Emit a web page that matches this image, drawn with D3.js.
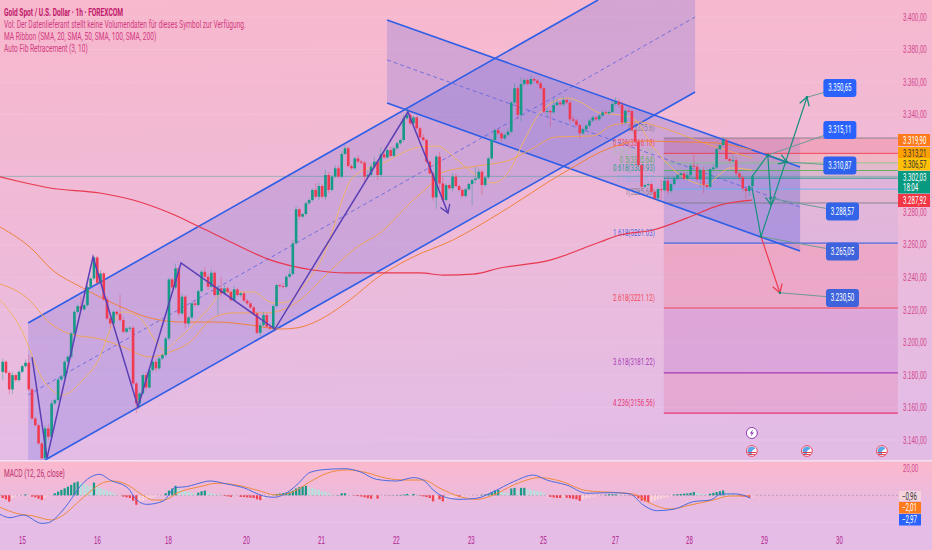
<!DOCTYPE html>
<html>
<head>
<meta charset="utf-8">
<script src="https://cdn.jsdelivr.net/npm/d3@7"></script>
<style>
  html, body { margin: 0; padding: 0; background: #e5bde6; }
  svg { display: block; font-family: Roboto, "Liberation Sans", sans-serif; }
</style>
</head>
<body>
<div id="chart"></div>
<script>
// Candles, one entry per hourly bar. Open is the close before it.
var firstOpen = 3181.9
var closes = [
  3188.1,3181.3,3171.1,3179.9,3176.8,3181.9,3185.4,3187.5,3171.1,3153.2,
  3149.1,3137.9,3128.8,3147.1,3142,3162.5,3164.5,3177.2,3178.9,3188.1,
  3191.2,3205.5,3218.8,3222.3,3220.3,3222.9,3234.2,3239.3,3252.2,3236.7,
  3242.4,3226.4,3214.7,3211.6,3218.8,3217.4,3213.7,3206.5,3208.6,3209,
  3174.8,3162.5,3168.6,3179.9,3172.3,3183,3188.1,3184,3190.1,3192.2,
  3202.4,3238.7,3233.8,3245.5,3217.8,3228.1,3211.6,3215.3,3224,3223,
  3231.5,3243.4,3240.3,3234.2,3242.8,3229.1,3233.2,3230.1,3233.2,3231.1,
  3226,3232.6,3229.1,3230.1,3225.6,3224,3221.5,3217.8,3205.9,3210.6,
  3216.8,3209.6,3208.6,3222.3,3235.2,3234.6,3234.2,3240.3,3242,3260.9,
  3281.8,3277.3,3278.9,3285.5,3287.5,3293.7,3289.5,3296.1,3289.5,3302.9,
  3293.7,3301.9,3307,3301.9,3315.8,3319.3,3308.4,3307,3313.1,3311.1,
  3310.5,3301.9,3302.9,3308,3311.1,3302.9,3315.6,3313.7,3318.2,3314.6,
  3319.3,3322.4,3324.4,3337.7,3339.8,3334.6,3338.3,3331.6,3326,3324.4,
  3311.1,3303.9,3289.1,3314.2,3297.7,3287.5,3296.7,3294.7,3301.9,3296.1,
  3293.7,3290,3294.1,3297.3,3299.8,3300.8,3304.9,3296.7,3301.4,3313.1,
  3324.4,3330.5,3328.5,3325.4,3327.5,3329.5,3347.4,3356.2,3339.8,3358.8,
  3361.3,3358.8,3361.9,3360.9,3359.3,3356.2,3341.8,3342.2,3341.4,3345.9,
  3347.4,3346.3,3349,3347.4,3337.1,3336.3,3333.6,3328.5,3331,3333.2,
  3336.3,3338.3,3337.1,3339.4,3341.4,3340.8,3341.6,3346.5,3347.8,3346.1,
  3335.1,3342.4,3342.2,3330.5,3323.4,3309,3295.7,3296.7,3297.3,3292.6,
  3288.5,3294.2,3293.6,3299.3,3293,3297.3,3300.8,3302.8,3303.9,3300.6,
  3302.8,3308.6,3308,3300.2,3305.9,3296.7,3295.6,3306.5,3307.5,3318.8,
  3321.3,3324.4,3312.7,3311.6,3312,3303.9,3301.4,3294.6,3293,3296.1,
  3302.03
]
var wickUp = [
  2,1,1,2,1,1,1,2,5,1, 1,1,1,2,3,2,1,1,1,1, 1,1,1,1,6,1,1,1,1,1, 2,1,2,1,1,1,12,2,1,1,
  1,1,1,1,2,1,1,2,1,1, 1,1,1,3,1,2,1,1,1,2, 1,1,3,2,2,1,2,7,2,1, 1,2,1,1,1,1,1,1,1,2,
  2,1,1,1,1,1,2,1,3,2, 2,1,1,1,1,1,4,2,1,3, 2,1,2,2,2,2,1,1,1,2, 1,1,3,2,3,1,4,2,1,2,
  1,1,1,2,4,2,1,1,1,2, 1,1,1,1,3,4,1,1,2,2, 1,1,1,1,1,7,2,1,1,1, 1,1,1,1,1,2,1,3,1,4,
  1,1,2,1,1,1,1,2,1,4, 2,1,2,1,1,2,1,1,1,1, 1,1,1,1,1,1,1,2,3,2, 2,1,2,1,1,1,1,1,1,1,
  1,1,6,2,3,1,1,1,1,1, 2,1,7,2,1,2,1,1,2,1, 1,2,1,1,3,2,1,1,1,1, 1
]
var wickDown = [
  5,1,3,3,1,1,1,1,1,1, 1,1,1,4,2,1,1,1,1,1, 1,1,1,1,1,1,1,1,1,1, 1,1,1,3,1,1,1,1,1,2,
  1,6,3,1,2,1,1,2,1,1, 1,1,1,1,2,1,3,2,1,1, 1,1,1,2,1,1,12,2,1,1, 1,1,1,1,1,1,1,1,1,2,
  1,1,1,1,1,1,1,1,1,1, 1,2,1,1,1,1,1,2,1,2, 2,1,1,1,1,1,1,1,1,1, 1,4,1,1,1,3,1,1,1,1,
  1,1,1,1,1,1,1,1,1,1, 1,1,2,7,3,1,1,1,2,1, 1,1,1,1,13,2,1,6,1,1, 1,1,1,2,1,1,1,1,3,4,
  1,1,1,1,1,1,1,3,9,1, 1,1,1,1,2,1,1,3,1,1, 1,1,1,1,1,1,1,1,1,2, 2,1,1,1,1,1,2,1,1,1,
  1,2,6,1,2,1,1,1,1,1, 1,1,1,1,5,5,1,1,1,1, 1,1,1,1,1,2,2,2,5,3, 1
]

// MA ribbon, [bar, price]
var sma20 = [[-0.8,3226.1],[5.3,3209.5],[12.4,3176.9],[18.5,3167.7],[24.6,3176.9],[29.8,3191],[32.9,3207.6],[36.9,3218.7],[42.1,3215],[47.3,3199.6],[49.2,3195.3],[53.5,3201.5],[63.6,3221.8],[67.6,3231],[76.8,3231],[82.9,3224.2],[87.2,3224.8],[91.2,3232.2],[98.2,3252.5],[107.5,3301.7],[116.7,3310.3],[128,3320.1],[133.2,3320.7],[139.4,3312.1],[144.3,3304.1],[150.4,3298],[155.6,3306],[159.6,3322.6],[164.8,3341],[173.1,3350.2],[177.1,3347.8],[183.2,3341],[189.3,3339.8],[193.3,3337.9],[199.5,3320.1],[207.8,3302.9],[216,3296.7],[219.1,3301.7],[223.1,3307.2],[229.8,3306]]
var sma50 = [[-0.8,3235.9],[7.5,3227.3],[14.5,3211.9],[20.6,3205.2],[29.8,3202.1],[36.9,3197.2],[45.2,3191],[50.4,3193.5],[57.5,3200.3],[64.5,3215],[70.6,3218.1],[81.1,3218.1],[91.2,3226.1],[98.2,3239.6],[108.7,3258.6],[115.7,3267.2],[125.9,3287.5],[130.5,3295.5],[135.1,3304.7],[145.5,3308.4],[155.6,3312.1],[161.7,3318.3],[170,3326.3],[181.1,3326.9],[187.2,3333.6],[195.5,3335.5],[199.5,3333.6],[217,3321.3],[229.8,3313.3]]
var sma100 = [[-0.8,3270.9],[9.3,3256.8],[14.5,3245.8],[24.6,3233.4],[35,3223],[45.2,3215],[55.3,3212.5],[65.7,3212.5],[75.9,3210.7],[85,3208.2],[90.3,3208.9],[95.2,3212],[106.5,3226.1],[114.8,3239.6],[125.9,3252.5],[138.1,3262.9],[152.5,3279.5],[171.9,3304.1],[187.2,3320.1],[195.5,3323.8],[207.8,3323.2],[218.5,3322.6],[229.8,3318.3]]
var sma200 = [[-0.8,3301.7],[4.4,3299.2],[14.5,3294.9],[29.8,3291.8],[40,3287.5],[51.3,3279.5],[60.5,3270.9],[70.6,3261.1],[82,3250.7],[95.2,3244.5],[105.6,3242.7],[128,3242.7],[135.1,3241.4],[144.3,3242],[152.5,3245.7],[167.9,3250.6],[183.2,3261.7],[189.3,3266],[199.5,3269.1],[210,3276.5],[220,3284.4],[229.8,3287.5]]

// MACD pane
var macdLine = [[-0.8,-14.1],[2.2,-16.6],[6.3,-14.6],[12,-20.8],[14,-20.3],[17.6,-13.4],[21.2,-2.2],[23.7,6.4],[26.8,13.3],[29.8,15.5],[32.9,11.3],[38.5,5.2],[40.6,-2.2],[44.2,-6.7],[49.3,-4.2],[52.9,5.7],[56.4,6.4],[59.5,8.4],[63.6,10.6],[68.7,8.4],[73.8,5.7],[80,-0.5],[83,-1.5],[88.1,3.4],[90.7,8.9],[94.3,17],[99.4,19.2],[105,19.7],[109.6,17.5],[114.7,11.8],[120.9,10.6],[126,13.1],[129,11.3],[132.1,3.9],[135.2,-1],[140.3,-3],[145.4,-2.2],[150.5,2.7],[156.7,10.1],[162.8,15],[166.9,11.3],[173,7.6],[179.2,1.5],[187.3,2],[192.4,1],[196.5,-7.2],[200.6,-11.4],[205.7,-10.4],[211.9,-4.7],[217,-3.5],[220.6,1],[225.2,1],[229.3,-2.2]]
var signalLine = [[-0.8,-8.9],[4.3,-13.4],[9.4,-15.3],[15,-18.3],[18.6,-14.6],[22.7,-6],[26.8,2.7],[30.9,9.4],[34,10.6],[38,8.1],[42.1,1.5],[46.2,-3.5],[49.3,-3.5],[54.4,2.7],[60.5,6.4],[65.6,8.9],[71.8,7.6],[77.9,3.9],[84,0.2],[89.1,2.7],[94.3,10.1],[99.4,16.3],[105.5,18.8],[111.6,16.8],[117.8,12.6],[123.9,11.3],[129,11.3],[134.1,5.2],[140.3,-1],[145.4,-3],[150.5,0.2],[156.7,7.6],[164.8,13.1],[171,10.6],[179.2,3.4],[188.4,2],[193.5,1],[198.6,-5.9],[204.7,-10.2],[210.9,-7.2],[218,-3.5],[223.1,-0.5],[229.3,-0.5]]
var histogram = [
  -2,-3,-4.7,-2,-1,-0.5,0.2,0.7,-0.5,-1, -1.5,-2.5,-3.5,-1.5,-0.8,0.3,1.5,2.7,4,5.2,
  6.4,7.7,9.4,10.1,9.4,8.5,7.5,7,9.4,6.5, 5.5,4.5,3.5,2.5,1.5,0.5,-0.3,-1,-1.5,-2,
  -4,-7,-5,-4,-3,-2,-1.5,-0.8,-0.5,-0.2, 1.5,3.5,5,7,5,4,3,2.5,2,1.5,
  2,3,3.5,2,1.5,1,0.6,0.3,-0.4,-0.8, -1.2,-0.3,-0.2,-1.2,-1.3,-1.6,-1.8,-2,-3,-3.6,
  -2.5,-1.5,-0.7,0.3,1,1.3,1.7,2,2.5,3.5, 5,6,6.5,7,6,5.5,4.5,4,3,2.4,
  1.5,0.6,0.2,0.2,1.5,1.5,0.3,0.1,-0.3,-0.6, -0.9,-1.5,-2.2,-2.5,-0.5,-2.5,-0.2,-0.1,-0.1,0.1,
  0.1,0.2,0.3,0.5,1,0.7,1,0.3,-0.3,-0.8, -1.3,-2,-4.5,-2,-3,-4.5,-3,-2.5,-2,-1,
  -1,-0.8,-0.6,-0.4,-0.3,-0.2,-0.1,0.4,0.6,1, 2.5,3.5,4,2.5,2,1.8,5,5.5,3.5,5.5,
  5.5,4.5,4,3.5,3,2.5,1.5,-0.6,-1.2,-1.6, -2,-2,-1.2,-1.8,-2.2,-2.6,-3,-4.2,-3,-2.2,
  -1.6,-1,-0.6,-0.3,-0.1,0.4,0.8,0.8,0.8,0.5, 0.3,0.1,-0.1,-0.3,-0.6,-2.2,-4,-4.5,-5,-4.4,
  -3.8,-3,-2.4,-1.8,-1.2,-0.6,0.6,0.8,1,1.2, 1.4,1.8,2.4,1.8,1.2,0.9,0.6,1.2,1.8,2.4,
  3,3.6,2,1.2,0.6,0.2,-0.6,-0.9,-1.2,-1.6, -0.96
]

// Axes
var priceTicks = [3400,3380,3360,3340,3280,3260,3240,3220,3200,3180,3160,3140]
var macdTicks = [20]
var dayBars = [5.9,28.9,50.7,74.6,97.6,120.6,143.6,165.7,187.8,210.5,233.5,256.5]
var dayLabels = ["15","16","18","20","21","22","23","25","27","28","29","30"]

// Fibonacci levels
var fibRatios = [0,0.236,0.382,0.5,0.618,0.786,1,1.618,2.618,3.618,4.236]
var fibPrices = [3325.6,3316.18,3310.36,3305.64,3300.93,3294.2,3285.68,3261.03,3221.12,3181.22,3156.56]
var fibColors = ["#7d7a8a","#f23645","#81c784","#4caf50","#089981","#64b5f6","#787b86","#2f5ee6","#f23645","#9c27b0","#e91e63"]
var fibBands = ["#f23645","#ff9800","#4caf50","#089981","#2962ff","#787b86","#2962ff","#f23645","#9c27b0","#e91e63"]
var fibBandAlpha = [0.16,0.08,0.08,0.08,0.08,0.08,0.06,0.14,0.14,0.12]
var fibBarStart = 202.8, fibBarEnd = 274.6

// Channels drawn on the chart
var upChannelFill = [[7.8,3211.9],[182.6,3410.45],[212.4,3410.45],[212.4,3353.9],[13,3127.7],[7.8,3127.7]]
var upChannelTop = [[7.8,3211.9],[182.6,3410.45]]
var upChannelMid = [[7.8,3167.7],[212.4,3400]]
var upChannelLow = [[13,3127.7],[212.4,3353.9]]
var downChannelFill = [[117.9,3398.2],[244.6,3307.8],[244.6,3256.2],[117.9,3347.1]]
var downChannelTop = [[117.9,3398.2],[244.6,3307.8]]
var downChannelMid = [[117.9,3373.6],[244.6,3283.2]]
var downChannelLow = [[117.9,3347.1],[244.6,3256.2]]
var shadeBox = [[202.8,3325.6],[244.6,3325.6],[244.6,3261.03],[202.8,3261.03]]

// Zigzag and projected moves
var zigzag = [[9,3191],[13.6,3129],[27.7,3252.5],[41.5,3160.3],[54.7,3248.8],[83.5,3208.2],[124.3,3341.6],[136.6,3279.5]]
var moveUpA = [[229.8,3301.7],[234.7,3315.2],[235.7,3284.4]]
var moveUpSide = [[234.7,3315.2],[240.6,3310.87]]
var moveDownUp = [[229.8,3295.5],[232.6,3265.05],[246.7,3350.65]]
var moveDown = [[232.6,3265.05],[238.4,3230.5]]

// Target boxes: value, anchor bar, box centre bar and price
var targetValues = [3350.65,3315.11,3310.87,3288.57,3265.05,3230.5]
var targetBars = [246.7,234.7,240.6,235.5,232.6,238.4]
var targetBoxBars = [256.8,256.8,256.8,257.6,257.6,257.6]
var targetBoxPrices = [3356.4,3330.6,3308.7,3280.5,3255.9,3227.3]
var targetColors = ["#2962ff","#2962ff","#2e62ee","#3364e8","#3f63dc","#3f63dc"]

// Right hand tags
var tagLabels = ["3.319,90","3.313,21","3.306,57","3.302,03","3.287,92"]
var tagColors = ["#ff7a1a","#ffa000","#ffc107","#089981","#f23645"]
var tagText = ["#fff","#333","#333","#fff","#fff"]
var macdTagLabels = ["−0,96","−2,01","−2,97"]
var macdTagColors = ["#f4d3dc","#ff7a1a","#2962ff"]
var macdTagText = ["#333","#fff","#fff"]

var legendLines = [
  "Gold Spot / U.S. Dollar · 1h · FOREXCOM",
  "Vol: Der Datenlieferant stellt keine Volumendaten für dieses Symbol zur Verfügung.",
  "MA Ribbon (SMA, 20, SMA, 50, SMA, 100, SMA, 200)",
  "Auto Fib Retracement (3, 10)"
]
var eventBars = [229.8,246.7,269.7]

var width = 932, height = 550, paneRight = 898, paneBottom = 460

var svg = d3.select("#chart").append("svg")
    .attr("width", width)
    .attr("height", height)

var defs = svg.append("defs")

var mainGrad = defs.append("linearGradient").attr("id", "mainBg")
    .attr("x1", 0).attr("y1", 0).attr("x2", 0.1).attr("y2", 1)
mainGrad.append("stop").attr("offset", 0).attr("stop-color", "#f8b8cd")
mainGrad.append("stop").attr("offset", 0.5).attr("stop-color", "#efbad7")
mainGrad.append("stop").attr("offset", 1).attr("stop-color", "#e3bce6")

var macdGrad = defs.append("linearGradient").attr("id", "macdBg")
    .attr("x1", 0).attr("y1", 0).attr("x2", 0).attr("y2", 1)
macdGrad.append("stop").attr("offset", 0).attr("stop-color", "#fbb8cc")
macdGrad.append("stop").attr("offset", 0.7).attr("stop-color", "#e6bce4")
macdGrad.append("stop").attr("offset", 1).attr("stop-color", "#e4bce6")

defs.append("clipPath").attr("id", "paneClip")
    .append("rect").attr("width", paneRight).attr("height", paneBottom)

function addArrow(id, color) {
    defs.append("marker").attr("id", id)
        .attr("viewBox", "0 0 12 12").attr("refX", 10).attr("refY", 6)
        .attr("markerWidth", 12).attr("markerHeight", 12)
        .attr("markerUnits", "userSpaceOnUse").attr("orient", "auto")
        .append("path").attr("d", "M2,1 L10,6 L2,11")
        .attr("fill", "none").attr("stroke", color).attr("stroke-width", 1.3)
}
addArrow("arrowTeal", "#16907f")
addArrow("arrowRed", "#f0394f")
addArrow("arrowPurple", "#5b3fb5")

svg.append("rect").attr("width", width).attr("height", 461).attr("fill", "url(#mainBg)")
svg.append("rect").attr("y", 462).attr("width", width).attr("height", 70).attr("fill", "url(#macdBg)")
svg.append("rect").attr("y", 532).attr("width", width).attr("height", 18).attr("fill", "#e4bce6")
svg.append("rect").attr("y", 460).attr("width", width).attr("height", 1.6).attr("fill", "#f6dcec")

// ----------------- //
// Scales
// ----------------- //

var x = d3.scaleLinear().domain([0, 230]).range([2.7, 752.5])
var y = d3.scaleLinear().domain([3400, 3140]).range([17, 440])
var macdY = d3.scaleLinear().domain([20, 0]).range([468.3, 495.3])

var line = d3.line().x(function(d) { return x(d[0]) }).y(function(d) { return y(d[1]) })
var smooth = d3.line().curve(d3.curveMonotoneX).x(function(d) { return x(d[0]) }).y(function(d) { return y(d[1]) })
var macdCurve = d3.line().curve(d3.curveMonotoneX).x(function(d) { return x(d[0]) }).y(function(d) { return macdY(d[1]) })

var de = d3.formatLocale({ decimal: ",", thousands: ".", grouping: [3], currency: ["", ""] })
var price = de.format(",.2f")

// Grid and price axis
var priceAxis = svg.append("g")
    .attr("transform", "translate(" + paneRight + ",0)")
    .call(d3.axisRight(y).tickValues(priceTicks).tickFormat(price).tickSize(0).tickPadding(5))
priceAxis.select(".domain").remove()
priceAxis.selectAll("text").attr("fill", "#d2478c").attr("font-size", 10)

svg.append("g").selectAll("line").data(priceTicks).enter().append("line")
    .attr("x1", 0).attr("x2", paneRight)
    .attr("y1", function(d) { return y(d) }).attr("y2", function(d) { return y(d) })
    .attr("stroke", "#fff").attr("stroke-opacity", 0.1)

var dayAxis = svg.append("g")
    .attr("transform", "translate(0,532)")
    .call(d3.axisBottom(x).tickValues(dayBars).tickFormat(function(d, i) { return dayLabels[i] }).tickSize(0).tickPadding(5))
dayAxis.select(".domain").remove()
dayAxis.selectAll("text").attr("fill", "#b1208a").attr("font-size", 10)

var pane = svg.append("g").attr("clip-path", "url(#paneClip)")

// ----------------- //
// Channels
// ----------------- //

pane.append("path").attr("d", line(upChannelFill) + "Z").attr("fill", "#4a55e0").attr("fill-opacity", 0.2)
pane.append("path").attr("d", line(downChannelFill) + "Z").attr("fill", "#4a55e0").attr("fill-opacity", 0.2)
pane.append("path").attr("d", line(shadeBox) + "Z").attr("fill", "#4a55e0").attr("fill-opacity", 0.14)

// ----------------- //
// Fibonacci levels
// ----------------- //

d3.pairs(fibPrices).forEach(function(p, i) {
    pane.append("rect")
        .attr("x", x(fibBarStart)).attr("width", x(fibBarEnd) - x(fibBarStart))
        .attr("y", y(p[0])).attr("height", y(p[1]) - y(p[0]))
        .attr("fill", fibBands[i]).attr("fill-opacity", fibBandAlpha[i])
})
fibPrices.forEach(function(p, i) {
    pane.append("line")
        .attr("x1", x(fibBarStart)).attr("x2", x(fibBarEnd))
        .attr("y1", y(p)).attr("y2", y(p))
        .attr("stroke", fibColors[i]).attr("stroke-width", i > 6 ? 1.2 : 1).attr("stroke-opacity", 0.85)
    pane.append("text")
        .attr("data-k", 0.68)
        .attr("x", x(fibBarStart) - 9).attr("y", y(p) - 7.5)
        .attr("text-anchor", "end").attr("font-size", 9)
        .attr("fill", fibColors[i]).attr("fill-opacity", (i == 2 || i == 5) ? 0.45 : 0.9)
        .text(fibRatios[i] + "(" + p + ")")
})

// last price line
pane.append("line")
    .attr("x1", 0).attr("x2", paneRight)
    .attr("y1", y(closes[closes.length - 1])).attr("y2", y(closes[closes.length - 1]))
    .attr("stroke", "#089981").attr("stroke-opacity", 0.45).attr("stroke-width", 0.8)

// Channel lines
var blue = "#2f5ee6"
;[upChannelTop, upChannelLow, downChannelTop, downChannelLow].forEach(function(l) {
    pane.append("path").attr("d", line(l)).attr("fill", "none").attr("stroke", blue).attr("stroke-width", 1.6)
})
;[upChannelMid, downChannelMid].forEach(function(l) {
    pane.append("path").attr("d", line(l)).attr("fill", "none")
        .attr("stroke", "#5a62dc").attr("stroke-width", 0.8).attr("stroke-dasharray", "4,3")
})

// ----------------- //
// MA ribbon
// ----------------- //

var maSeries = [
  { points: sma20, color: "#f0b56a" },
  { points: sma50, color: "#efa45a" },
  { points: sma100, color: "#f0823c" },
  { points: sma200, color: "#e8384f" }
]
maSeries.forEach(function(m) {
    pane.append("path").attr("d", smooth(m.points)).attr("fill", "none")
        .attr("stroke", m.color).attr("stroke-width", m.color == "#e8384f" ? 1.2 : 1)
})

// ----------------- //
// Candles
// ----------------- //

var candles = closes.map(function(c, i) {
    var o = i == 0 ? firstOpen : closes[i - 1]
    return { bar: i, open: o, close: c, high: Math.max(o, c) + wickUp[i], low: Math.min(o, c) - wickDown[i] }
})
var candleColor = function(d) { return d.close >= d.open ? "#159a87" : "#f03a52" }

pane.append("g").selectAll("line").data(candles).enter().append("line")
    .attr("x1", function(d) { return x(d.bar) }).attr("x2", function(d) { return x(d.bar) })
    .attr("y1", function(d) { return y(d.high) }).attr("y2", function(d) { return y(d.low) })
    .attr("stroke", candleColor).attr("stroke-width", 0.7).attr("stroke-opacity", 0.55)

pane.append("g").selectAll("rect").data(candles).enter().append("rect")
    .attr("x", function(d) { return x(d.bar) - 1.3 })
    .attr("width", 2.6)
    .attr("y", function(d) { return Math.min(y(d.open), y(d.close)) })
    .attr("height", function(d) { return Math.max(1, Math.abs(y(d.open) - y(d.close))) })
    .attr("fill", candleColor)

// ----------------- //
// Zigzag, moves, targets
// ----------------- //

pane.append("path").attr("d", line(zigzag)).attr("fill", "none")
    .attr("stroke", "#5b3fb5").attr("stroke-width", 1.5).attr("marker-end", "url(#arrowPurple)")

;[moveUpA, moveUpSide, moveDownUp].forEach(function(l) {
    pane.append("path").attr("d", line(l)).attr("fill", "none")
        .attr("stroke", "#16907f").attr("stroke-width", 1.2).attr("marker-end", "url(#arrowTeal)")
})
pane.append("path").attr("d", line(moveDown)).attr("fill", "none")
    .attr("stroke", "#f0394f").attr("stroke-width", 1.2).attr("marker-end", "url(#arrowRed)")

targetValues.forEach(function(v, i) {
    var bx = x(targetBoxBars[i]), by = y(targetBoxPrices[i])
    pane.append("line")
        .attr("x1", x(targetBars[i])).attr("y1", y(v))
        .attr("x2", bx).attr("y2", by)
        .attr("stroke", "#6b9a96").attr("stroke-width", 1)
    pane.append("circle").attr("cx", x(targetBars[i])).attr("cy", y(v)).attr("r", 1.3).attr("fill", "#0d8a78")
    pane.append("rect")
        .attr("x", bx - 16.5).attr("y", by - 9).attr("width", 33).attr("height", 18).attr("rx", 3)
        .attr("fill", targetColors[i])
    pane.append("text")
        .attr("x", bx).attr("y", by + 3.5).attr("text-anchor", "middle")
        .attr("font-size", 10).attr("fill", "#fff")
        .text(price(v))
})

// Event icons
var iconY = 451
eventBars.forEach(function(b) {
    var icon = svg.append("g").attr("transform", "translate(" + x(b) + "," + iconY + ")")
    icon.append("circle").attr("r", 5.4).attr("fill", "#fff").attr("stroke", "#e5394f").attr("stroke-width", 0.9)
    icon.append("path").attr("d", d3.arc()({ innerRadius: 0, outerRadius: 4.4, startAngle: -Math.PI, endAngle: Math.PI * 0.3 })).attr("fill", "#5aa6e8")
    icon.append("rect").attr("x", -4.4).attr("y", 1).attr("width", 8.8).attr("height", 1).attr("fill", "#e5394f")
    icon.append("rect").attr("x", -3.8).attr("y", 3).attr("width", 7.6).attr("height", 0.9).attr("fill", "#e5394f")
})
var bolt = svg.append("g").attr("transform", "translate(" + x(eventBars[0]) + ",433)")
bolt.append("circle").attr("r", 5.5).attr("fill", "#fff").attr("stroke", "#8e3ab0").attr("stroke-width", 1)
bolt.append("path").attr("d", "M1,-3.5 L-2,0.6 L-0.2,0.6 L-1,3.5 L2,-0.6 L0.2,-0.6 Z").attr("fill", "#8e3ab0")

// ----------------- //
// MACD pane
// ----------------- //

svg.append("line").attr("x1", 0).attr("x2", paneRight)
    .attr("y1", macdY(0)).attr("y2", macdY(0))
    .attr("stroke", "#8a7a9a").attr("stroke-opacity", 0.6).attr("stroke-dasharray", "2,2").attr("stroke-width", 0.8)
svg.append("line").attr("x1", 0).attr("x2", paneRight)
    .attr("y1", macdY(-20)).attr("y2", macdY(-20))
    .attr("stroke", "#fff").attr("stroke-opacity", 0.1)

// rising bars are strong, falling bars are pale
function histColor(d, i) {
    var prev = i == 0 ? 0 : histogram[i - 1]
    var grows = Math.abs(d) >= Math.abs(prev)
    if (d >= 0) return grows ? "#159a87" : "#b2e3dc"
    return grows ? "#f2404f" : "#ffd5d8"
}
svg.append("g").selectAll("rect").data(histogram).enter().append("rect")
    .attr("x", function(d, i) { return x(i) - 1.1 })
    .attr("width", 2.2)
    .attr("y", function(d) { return macdY(Math.max(d, 0)) })
    .attr("height", function(d) { return Math.abs(macdY(d) - macdY(0)) })
    .attr("fill", histColor)

svg.append("path").attr("d", macdCurve(signalLine)).attr("fill", "none").attr("stroke", "#f08a3c").attr("stroke-width", 1)
svg.append("path").attr("d", macdCurve(macdLine)).attr("fill", "none").attr("stroke", "#4a6ae0").attr("stroke-width", 1)

var macdAxis = svg.append("g")
    .attr("transform", "translate(" + paneRight + ",0)")
    .call(d3.axisRight(macdY).tickValues(macdTicks).tickFormat(de.format(",.2f")).tickSize(0).tickPadding(5))
macdAxis.select(".domain").remove()
macdAxis.selectAll("text").attr("fill", "#d2478c").attr("font-size", 10)

// ----------------- //
// Tags on the right
// ----------------- //

var tagTops = [134, 147, 158, 171, 194]
var tagHeights = [12, 11, 12.5, 22.5, 13]
tagLabels.forEach(function(t, i) {
    svg.append("rect").attr("x", paneRight).attr("y", tagTops[i])
        .attr("width", 32).attr("height", tagHeights[i]).attr("fill", tagColors[i])
    svg.append("text").attr("x", paneRight + 5).attr("y", tagTops[i] + 9.5)
        .attr("font-size", 10).attr("fill", tagText[i]).text(t)
})
svg.append("text").attr("x", paneRight + 5).attr("y", 190.5)
    .attr("font-size", 10).attr("fill", "#fff").text("18:04")

var macdTagTops = [491, 502, 514]
macdTagLabels.forEach(function(t, i) {
    svg.append("rect").attr("x", 899).attr("y", macdTagTops[i])
        .attr("width", 22).attr("height", i == 0 ? 10 : 11.5).attr("fill", macdTagColors[i])
    svg.append("text").attr("x", 902).attr("y", macdTagTops[i] + 8.5)
        .attr("font-size", 10).attr("fill", macdTagText[i]).text(t)
})

// ----------------- //
// Legend
// ----------------- //

legendLines.forEach(function(t, i) {
    svg.append("text").attr("data-k", 0.66).attr("x", 4).attr("y", 15.5 + i * 12.3)
        .attr("font-size", 10).attr("font-weight", i == 0 ? "bold" : "normal")
        .attr("fill", i == 0 ? "#c0186a" : "#d23a80")
        .text(t)
})
svg.append("text").attr("data-k", 0.655).attr("x", 4).attr("y", 477)
    .attr("font-size", 10).attr("fill", "#c0306f").text("MACD (12, 26, close)")

// The picture is squeezed sideways, so all text is condensed the same way
svg.selectAll("text").each(function() {
    var k = +(this.getAttribute("data-k") || 0.61)
    this.setAttribute("textLength", this.getComputedTextLength() * k)
    this.setAttribute("lengthAdjust", "spacingAndGlyphs")
})
</script>
</body>
</html>
